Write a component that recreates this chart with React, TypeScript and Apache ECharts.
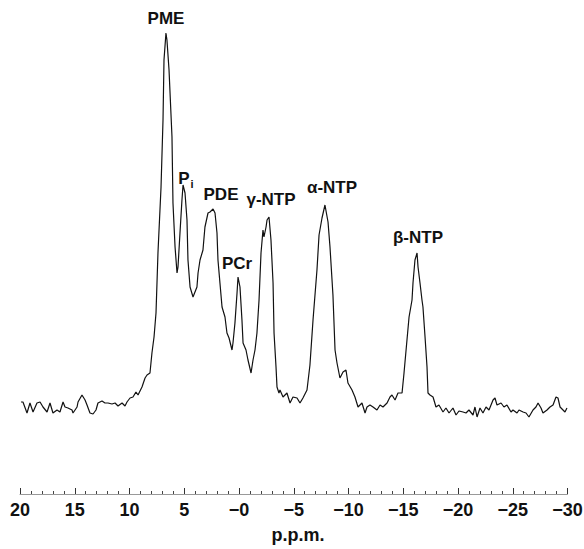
import React, { useEffect, useRef } from "react";
import * as echarts from "echarts";

// Chemical shift (p.p.m.) of each sampled point of the spectrum
const ppm: number[] = [
  19.91, 19.73, 19.36, 19.09, 18.81, 18.45, 18.17, 17.9, 17.53, 17.26,
  16.99, 16.62, 16.35, 16.07, 15.89, 15.62, 15.25, 15.16, 14.79, 14.7,
  14.34, 14.06, 13.88, 13.61, 13.33, 13.06, 12.88, 12.51, 12.24, 11.96,
  11.6, 11.32, 11.05, 10.68, 10.41, 10.23, 9.95, 9.68, 9.41, 9.22,
  8.86, 8.58, 8.4, 8.13, 7.95, 7.76, 7.58, 7.4, 7.12, 6.94,
  6.85, 6.67, 6.58, 6.39, 6.12, 6.03, 5.84, 5.66, 5.57, 5.39,
  5.21, 5.11, 4.93, 4.75, 4.66, 4.47, 4.2, 3.84, 3.74, 3.56,
  3.29, 3.11, 2.83, 2.65, 2.37, 2.19, 2.01, 1.92, 1.74, 1.55,
  1.28, 1.1, 0.91, 0.64, 0.55, 0.37, 0.18, 0.09, -0.09, -0.27,
  -0.37, -0.64, -0.82, -1.1, -1.28, -1.46, -1.64, -1.83, -2.01, -2.19,
  -2.28, -2.47, -2.56, -2.74, -2.92, -3.11, -3.2, -3.38, -3.47, -3.65,
  -3.74, -4.02, -4.38, -4.66, -4.93, -5.3, -5.57, -5.84, -6.21, -6.48,
  -6.76, -7.12, -7.31, -7.58, -7.85, -8.13, -8.31, -8.58, -8.77, -8.95,
  -9.22, -9.5, -9.77, -9.95, -10.32, -10.59, -10.87, -11.23, -11.51, -11.69,
  -11.96, -12.24, -12.6, -12.88, -13.15, -13.52, -13.79, -13.97, -14.25, -14.52,
  -14.89, -15.07, -15.34, -15.53, -15.8, -15.89, -16.07, -16.26, -16.35, -16.53,
  -16.71, -16.8, -16.99, -17.17, -17.26, -17.44, -17.72, -17.99, -18.26, -18.63,
  -18.9, -19.18, -19.54, -19.82, -20.09, -20.46, -20.73, -21.0, -21.37, -21.55,
  -21.74, -22.01, -22.28, -22.56, -22.83, -23.2, -23.38, -23.56, -23.93, -24.2,
  -24.47, -24.84, -25.02, -25.39, -25.57, -25.94, -26.21, -26.48, -26.85, -27.12,
  -27.31, -27.58, -27.76, -28.13, -28.4, -28.68, -28.95, -29.13, -29.32, -29.59,
  -29.77, -29.95,
];

// Signal intensity (arbitrary units) at each shift
const intensity: number[] = [
  18, 18, 7, 17, 8, 17, 18, 13, 8, 17,
  7, 10, 8, 18, 13, 12, 10, 7, 13, 18,
  25, 20, 15, 7, 6, 10, 17, 19, 17, 17,
  16, 17, 14, 17, 14, 18, 22, 23, 28, 25,
  33, 42, 45, 47, 67, 83, 107, 167, 233, 300,
  360, 387, 380, 350, 283, 217, 173, 147, 153, 187,
  220, 235, 227, 200, 160, 133, 123, 133, 147, 160,
  170, 193, 207, 208, 211, 207, 187, 160, 137, 113,
  103, 87, 82, 70, 77, 97, 127, 143, 133, 100,
  77, 70, 60, 47, 60, 70, 87, 120, 167, 190,
  183, 193, 200, 203, 180, 137, 87, 53, 33, 27,
  30, 23, 27, 17, 23, 22, 17, 22, 30, 55,
  100, 150, 185, 202, 215, 198, 173, 125, 70, 57,
  42, 48, 50, 37, 30, 23, 13, 17, 7, 13,
  15, 13, 10, 15, 13, 17, 23, 25, 20, 27,
  27, 47, 80, 103, 120, 137, 160, 167, 153, 137,
  120, 113, 83, 53, 27, 25, 23, 13, 15, 8,
  12, 7, 12, 5, 9, 8, 7, 10, 5, 13,
  3, 12, 7, 13, 10, 20, 22, 15, 17, 13,
  15, 8, 10, 7, 10, 8, 7, 3, 10, 13,
  17, 12, 7, 10, 13, 15, 23, 22, 13, 10,
  8, 12,
];

// Axis range and tick labels
const xMin = -30;
const xMax = 20;
const xInterval = 5;
const axisTitle = "p.p.m.";

// Peak annotations
const peakNames: string[] = ["PME", "PDE", "PCr", "γ-NTP", "α-NTP", "β-NTP"];

export default function App() {
  const ref = useRef<HTMLDivElement>(null);

  useEffect(() => {
    if (!ref.current) return;
    const chart = echarts.init(ref.current, undefined, { renderer: "svg" });
    const data = ppm.map((p, i) => [p, intensity[i]]);
    const peakFont = {
      fontFamily: "Liberation Sans, Arial, sans-serif",
      fontWeight: "bold" as const,
      fontSize: 17,
      fill: "#111",
    };
    const labelPos: [number, number][] = [
      [166, 18],
      [221, 194],
      [237, 263],
      [271, 199],
      [332, 187],
      [418, 237],
    ];
    const graphics: any[] = peakNames.map((name, i) => ({
      type: "text",
      x: labelPos[i][0],
      y: labelPos[i][1],
      style: { ...peakFont, text: name, textAlign: "center", textVerticalAlign: "middle" },
    }));
    graphics.push({
      type: "text",
      x: 184,
      y: 178,
      style: { ...peakFont, text: "P", textAlign: "center", textVerticalAlign: "middle" },
    });
    graphics.push({
      type: "text",
      x: 192,
      y: 184,
      style: { ...peakFont, fontSize: 11, text: "i", textAlign: "center", textVerticalAlign: "middle" },
    });
    graphics.push({
      type: "text",
      x: 298,
      y: 535,
      style: {
        ...peakFont,
        fontSize: 18,
        text: axisTitle,
        textAlign: "center",
        textVerticalAlign: "middle",
      },
    });

    chart.setOption({
      animation: false,
      backgroundColor: "#fff",
      grid: {
        left: 20,
        right: 16.5,
        top: 20,
        height: 474,
        containLabel: false,
        outerBoundsMode: "none",
      },
      xAxis: {
        type: "value",
        min: xMin,
        max: xMax,
        interval: xInterval,
        inverse: true,
        splitLine: { show: false },
        axisLine: { show: true, onZero: false, lineStyle: { color: "#999", width: 1 } },
        axisTick: { show: true, inside: true, length: 6, lineStyle: { color: "#333", width: 1 } },
        minorTick: { show: true, splitNumber: 5, length: 3, lineStyle: { color: "#444", width: 1 } },
        axisLabel: {
          margin: 7,
          fontSize: 18,
          fontWeight: "bold",
          fontFamily: "Liberation Sans, Arial, sans-serif",
          color: "#111",
          formatter: (v: number) => (v > 0 ? String(v) : "\u2212" + Math.abs(v)),
        },
      },
      yAxis: {
        type: "value",
        min: -74,
        max: 400,
        show: false,
        splitLine: { show: false },
      },
      series: [
        {
          type: "line",
          data,
          showSymbol: false,
          symbol: "none",
          lineStyle: { color: "#111", width: 1.2 },
        },
      ],
      graphic: graphics,
    });
    return () => chart.dispose();
  }, []);

  return (
    <div
      ref={ref}
      style={{ position: "fixed", left: 0, top: 0, width: 584, height: 549, background: "#fff" }}
    />
  );
}
